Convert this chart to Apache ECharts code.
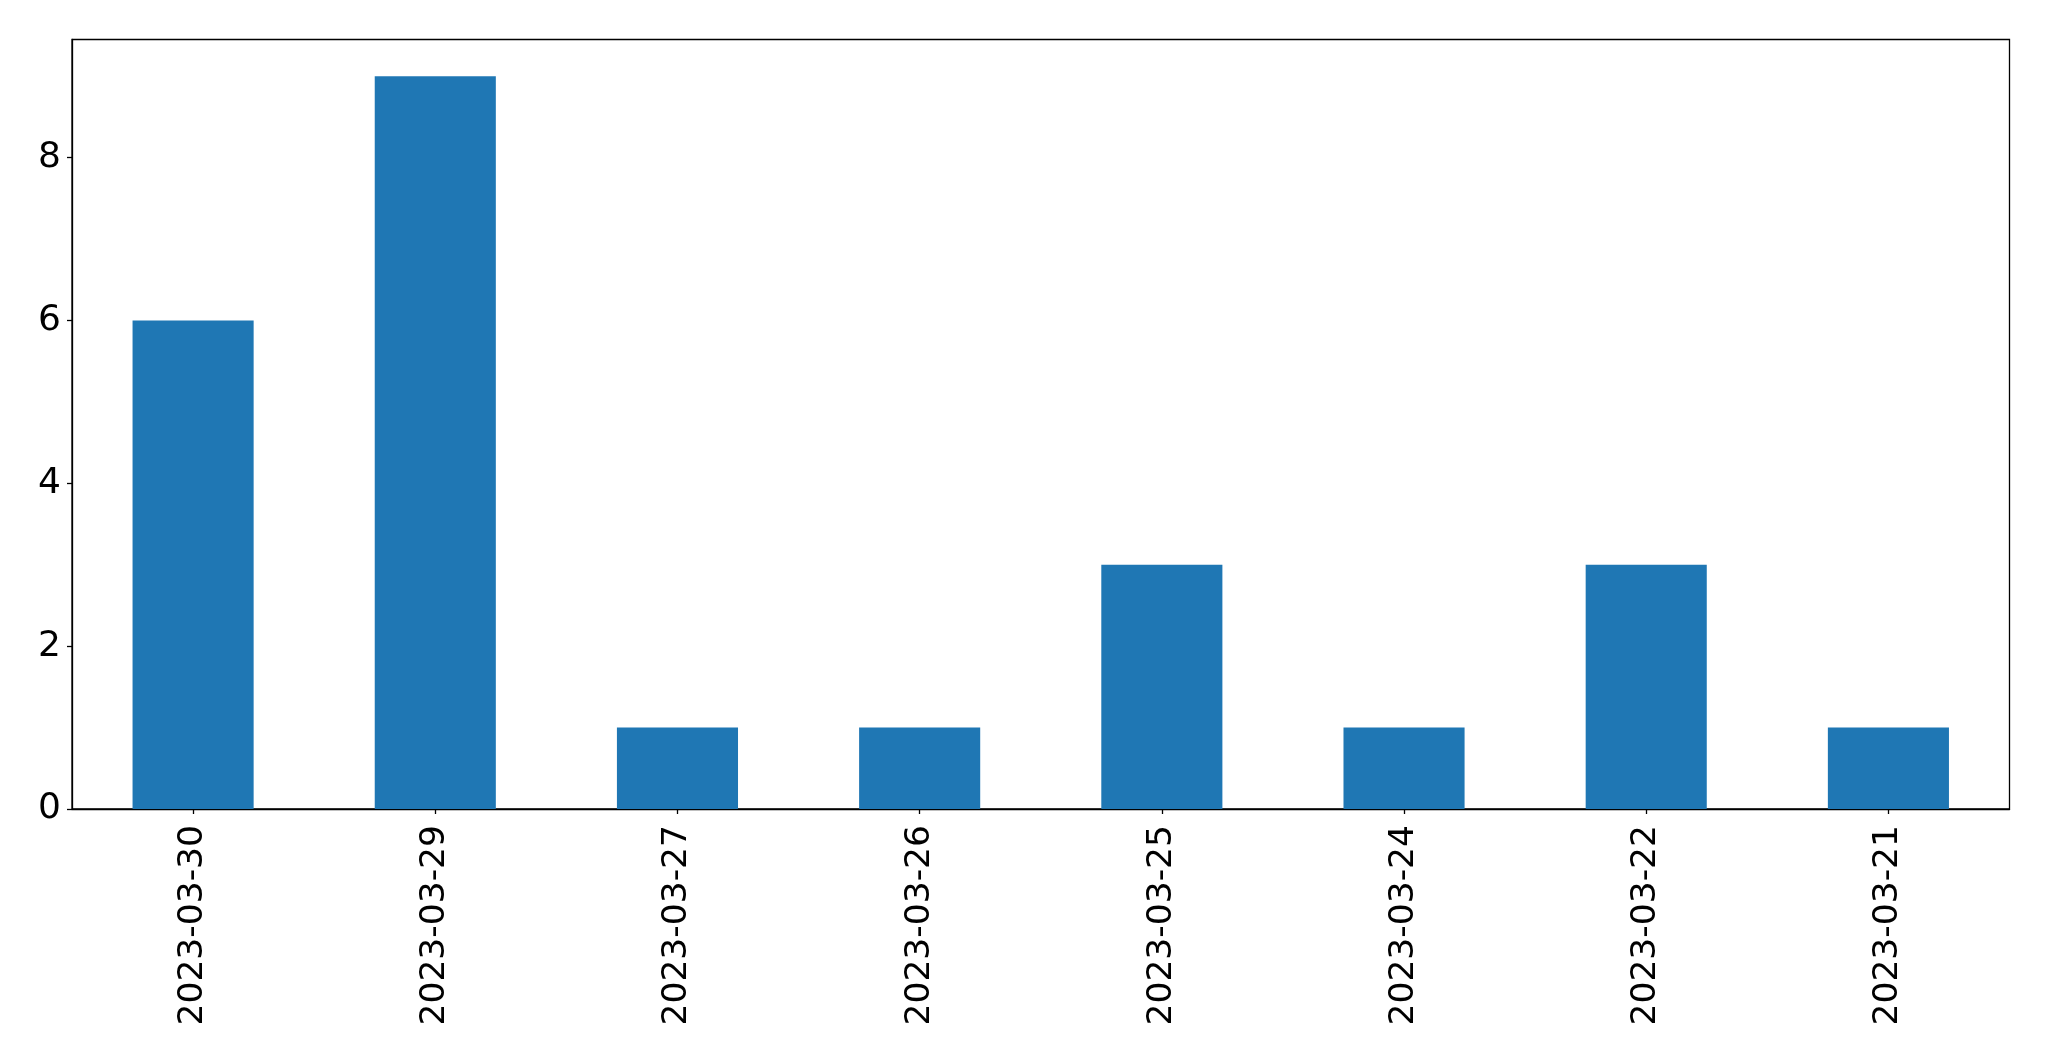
<!DOCTYPE html>
<html>
<head>
<meta charset="utf-8">
<style>html,body{margin:0;padding:0;background:#fff;}#c{width:2049px;height:1061px;}</style>
<script src="https://cdn.jsdelivr.net/npm/echarts@6/dist/echarts.min.js"></script>
</head>
<body>
<div id="c"></div>
<script>
var categories = ['2023-03-30','2023-03-29','2023-03-27','2023-03-26','2023-03-25','2023-03-24','2023-03-22','2023-03-21'];
var values = [6, 9, 1, 1, 3, 1, 3, 1];
var yTicks = [0, 2, 4, 6, 8];

var chart = echarts.init(document.getElementById('c'), null, {renderer: 'canvas'});
chart.setOption({
  animation: false,
  backgroundColor: '#ffffff',
  grid: {left: 72, right: 39.5, top: 39.5, bottom: 252, show: true, borderColor: '#000', borderWidth: 1.3, backgroundColor: 'transparent'},
  xAxis: {
    type: 'category',
    data: categories,
    boundaryGap: true,
    axisLine: {show: true, lineStyle: {color: '#000', width: 1.3}},
    axisTick: {show: true, alignWithLabel: true, length: 5, lineStyle: {color: '#000', width: 1.3}},
    axisLabel: {rotate: 90, margin: 16, color: '#000', fontSize: 34.5, fontFamily: 'DejaVu Sans'},
    splitLine: {show: false}
  },
  yAxis: {
    type: 'value',
    min: 0,
    max: 9.45,
    axisLine: {show: true, lineStyle: {color: '#000', width: 1.3}},
    axisTick: {show: true, length: 5, customValues: yTicks, lineStyle: {color: '#000', width: 1.3}},
    axisLabel: {margin: 11, color: '#000', fontSize: 36, fontFamily: 'DejaVu Sans', customValues: yTicks, padding: [8, 0, 0, 0]},
    splitLine: {show: false}
  },
  series: [{
    type: 'bar',
    data: values,
    barWidth: '50%',
    itemStyle: {color: '#1f77b4'}
  }]
});
</script>
</body>
</html>
